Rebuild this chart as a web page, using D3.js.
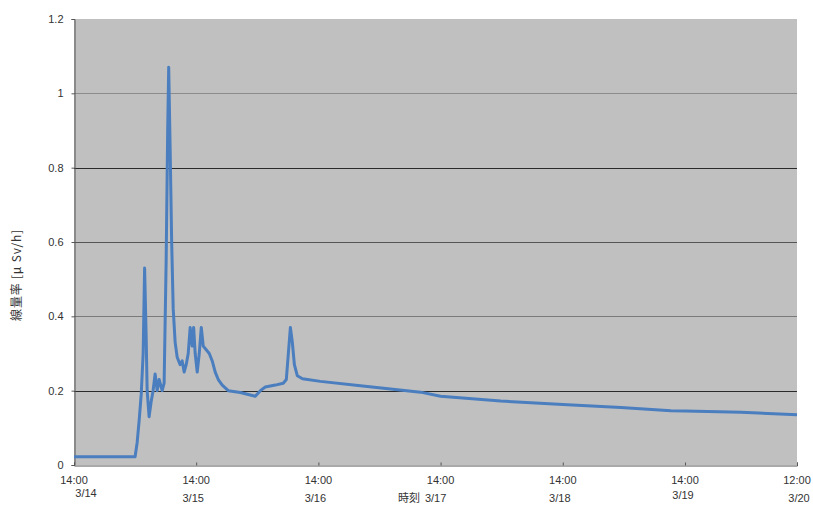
<!DOCTYPE html>
<html>
<head>
<meta charset="utf-8">
<title>線量率</title>
<script src="https://cdn.jsdelivr.net/npm/d3@7/dist/d3.min.js"></script>
<style>
  body { margin: 0; background: #fff; }
  text { font-family: "Liberation Sans", Arial, sans-serif; fill: #333; }
</style>
</head>
<body>
<div id="chart"></div>
<script>
var times = [
  "2011-03-14 14:00", "2011-03-15 02:00", "2011-03-15 02:24", "2011-03-15 02:48",
  "2011-03-15 03:12", "2011-03-15 03:35", "2011-03-15 03:52", "2011-03-15 04:10",
  "2011-03-15 04:22", "2011-03-15 04:45", "2011-03-15 05:09", "2011-03-15 05:32",
  "2011-03-15 05:56", "2011-03-15 06:20", "2011-03-15 06:43", "2011-03-15 07:19",
  "2011-03-15 07:42", "2011-03-15 08:06", "2011-03-15 08:24", "2011-03-15 08:36",
  "2011-03-15 08:53", "2011-03-15 09:11", "2011-03-15 09:29", "2011-03-15 09:52",
  "2011-03-15 10:16", "2011-03-15 10:51", "2011-03-15 11:15", "2011-03-15 11:38",
  "2011-03-15 12:02", "2011-03-15 12:26", "2011-03-15 12:49", "2011-03-15 13:13",
  "2011-03-15 13:30", "2011-03-15 13:48", "2011-03-15 14:12", "2011-03-15 14:36",
  "2011-03-15 15:00", "2011-03-15 15:23", "2011-03-15 15:58", "2011-03-15 16:34",
  "2011-03-15 17:09", "2011-03-15 17:44", "2011-03-15 18:20", "2011-03-15 19:07",
  "2011-03-15 20:18", "2011-03-15 22:40", "2011-03-16 01:36", "2011-03-16 02:36",
  "2011-03-16 03:34", "2011-03-16 05:32", "2011-03-16 07:06", "2011-03-16 07:42",
  "2011-03-16 08:06", "2011-03-16 08:30", "2011-03-16 08:53", "2011-03-16 09:17",
  "2011-03-16 09:52", "2011-03-16 10:52", "2011-03-16 14:24", "2011-03-16 22:16",
  "2011-03-17 10:04", "2011-03-17 14:00", "2011-03-18 01:48", "2011-03-18 14:00",
  "2011-03-19 01:25", "2011-03-19 11:15", "2011-03-19 14:00", "2011-03-20 01:00",
  "2011-03-20 12:00"
];
var values = [
  0.022, 0.022, 0.06, 0.12,
  0.19, 0.30, 0.53, 0.35,
  0.20, 0.13, 0.17, 0.20,
  0.245, 0.20, 0.23, 0.20,
  0.22, 0.55, 0.90, 1.07,
  0.85, 0.60, 0.42, 0.33,
  0.29, 0.27, 0.28, 0.25,
  0.27, 0.30, 0.37, 0.32,
  0.37, 0.30, 0.25, 0.30,
  0.37, 0.32, 0.31, 0.30,
  0.28, 0.25, 0.23, 0.215,
  0.20, 0.195, 0.185, 0.20,
  0.21, 0.215, 0.22, 0.23,
  0.30, 0.37, 0.33, 0.27,
  0.24, 0.232, 0.225, 0.213,
  0.196, 0.185, 0.172, 0.163,
  0.155, 0.146, 0.145, 0.142,
  0.135
];
var yTicks = [0, 0.2, 0.4, 0.6, 0.8, 1, 1.2];
var xTickTimes = ["2011-03-14 14:00", "2011-03-15 14:00", "2011-03-16 14:00",
  "2011-03-17 14:00", "2011-03-18 14:00", "2011-03-19 14:00", "2011-03-20 12:00"];
var xTickHours = ["14:00", "14:00", "14:00", "14:00", "14:00", "14:00", "12:00"];
var xTickDates = ["3/14", "3/15", "3/16", "3/17", "3/18", "3/19", "3/20"];

var width = 813, height = 505;
var margin = {top: 19, right: 16, bottom: 40, left: 74};
var parse = d3.timeParse("%Y-%m-%d %H:%M");

var data = times.map(function (t, i) { return {t: parse(t), v: values[i]}; });

var svg = d3.select("#chart").append("svg")
    .attr("width", width)
    .attr("height", height);

var x = d3.scaleTime()
    .domain([parse(xTickTimes[0]), parse(xTickTimes[xTickTimes.length - 1])])
    .range([margin.left, width - margin.right]);
var y = d3.scaleLinear()
    .domain([0, 1.2])
    .range([height - margin.bottom, margin.top]);

// plot background
svg.append("rect")
    .attr("x", margin.left)
    .attr("y", margin.top)
    .attr("width", width - margin.left - margin.right)
    .attr("height", height - margin.top - margin.bottom)
    .attr("fill", "#c0c0c0");

// gridlines (the scan makes some look darker than others)
var gridColor = {"0.2": "#2a2a2a", "0.4": "#7a7a7a", "0.6": "#555", "0.8": "#2a2a2a", "1": "#8c8c8c"};
svg.append("g").selectAll("line")
    .data(yTicks.filter(function (d) { return d > 0 && d < 1.2; }))
    .enter().append("line")
    .attr("x1", margin.left)
    .attr("x2", width - margin.right)
    .attr("y1", function (d) { return Math.round(y(d)) + 0.5; })
    .attr("y2", function (d) { return Math.round(y(d)) + 0.5; })
    .attr("stroke", function (d) { return gridColor[String(d)]; })
    .attr("stroke-width", 1);

// y axis
var yAxis = svg.append("g")
    .attr("transform", "translate(" + (margin.left + 0.5) + ",0)")
    .call(d3.axisLeft(y).tickValues(yTicks).tickSize(3).tickPadding(8)
      .tickFormat(function (d) { return String(d); }));
yAxis.select(".domain").attr("stroke", "#555");
yAxis.selectAll(".tick line").attr("stroke", "#555");
yAxis.selectAll("text").style("font-size", "11px").attr("fill", "#333");

// x axis
var xAxis = svg.append("g")
    .attr("transform", "translate(0," + (height - margin.bottom + 0.5) + ")")
    .call(d3.axisBottom(x).tickValues(xTickTimes.map(parse)).tickSize(-3).tickFormat(""));
xAxis.select(".domain").attr("stroke", "#555");
xAxis.selectAll(".tick line").attr("stroke", "#555");

// two-line tick labels, the date line sits a little off the tick in the original
var dateShift = [12, -3, -3, -5, -3, -2, 2];
var labels = svg.append("g").selectAll("g")
    .data(xTickTimes)
    .enter().append("g")
    .attr("transform", function (d) { return "translate(" + x(parse(d)) + ",0)"; });
labels.append("text")
    .attr("y", 484)
    .attr("text-anchor", "middle")
    .style("font-size", "11px")
    .text(function (d, i) { return xTickHours[i]; });
labels.append("text")
    .attr("x", function (d, i) { return dateShift[i]; })
    .attr("y", function (d, i) { return i === 0 ? 497 : (i === 5 ? 499 : 502); })
    .attr("text-anchor", "middle")
    .style("font-size", "11px")
    .text(function (d, i) { return xTickDates[i]; });

// axis titles
svg.append("text")
    .attr("x", 409)
    .attr("y", 502)
    .attr("text-anchor", "middle")
    .style("font-size", "11px")
    .style("font-family", "'Noto Sans CJK JP', sans-serif")
    .text("時刻");
svg.append("text")
    .attr("transform", "translate(21,275) rotate(-90)")
    .attr("text-anchor", "middle")
    .style("font-size", "12px")
    .style("letter-spacing", "0.8px")
    .style("font-family", "'Noto Sans CJK JP', sans-serif")
    .text("線量率 [μ Sv/h]");

// dose rate line
var line = d3.line()
    .x(function (d) { return x(d.t); })
    .y(function (d) { return y(d.v); });
svg.append("path")
    .datum(data)
    .attr("fill", "none")
    .attr("stroke", "#4a7ebf")
    .attr("stroke-width", 3)
    .attr("stroke-linejoin", "round")
    .attr("d", line);
</script>
</body>
</html>
